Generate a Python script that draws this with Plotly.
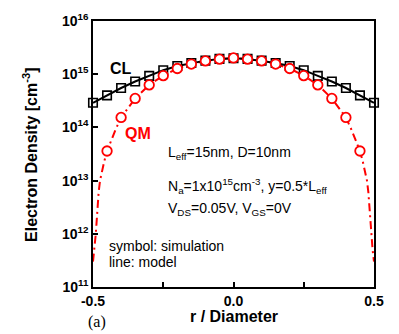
import plotly.graph_objects as go

# Normalised radial position r / Diameter
r_sim = [-0.5, -0.45, -0.4, -0.35, -0.3, -0.25, -0.2, -0.15, -0.1, -0.05, 0.0,
         0.05, 0.1, 0.15, 0.2, 0.25, 0.3, 0.35, 0.4, 0.45, 0.5]

# Classical (CL) electron density, simulation and model [cm^-3]
cl_sim = [2.9e14, 4.0e14, 5.5e14, 7.3e14, 9.3e14, 1.19e15, 1.43e15, 1.62e15, 1.8e15, 1.94e15, 2.0e15,
          1.94e15, 1.8e15, 1.62e15, 1.43e15, 1.19e15, 9.3e14, 7.3e14, 5.5e14, 4.0e14, 2.9e14]

# Quantum-mechanical (QM) simulation points
r_qm = [-0.45, -0.4, -0.35, -0.3, -0.25, -0.2, -0.15, -0.1, -0.05, 0.0,
        0.05, 0.1, 0.15, 0.2, 0.25, 0.3, 0.35, 0.4, 0.45]
qm_sim = [3.6e13, 1.54e14, 3.5e14, 6.3e14, 9.4e14, 1.28e15, 1.55e15, 1.78e15, 1.92e15, 2.02e15,
          1.92e15, 1.78e15, 1.55e15, 1.28e15, 9.4e14, 6.3e14, 3.5e14, 1.54e14, 3.6e13]

# QM model curve
r_qm_model = [-0.5, -0.495, -0.49, -0.48, -0.475, -0.46, -0.45, -0.42, -0.4, -0.35, -0.3, -0.25,
              -0.2, -0.15, -0.1, -0.05, 0.0, 0.05, 0.1, 0.15, 0.2, 0.25, 0.3, 0.35, 0.4,
              0.42, 0.45, 0.46, 0.475, 0.48, 0.49, 0.495, 0.5]
qm_model = [3e11, 5e11, 1e12, 6e12, 1e13, 2.3e13, 3.6e13, 9e13, 1.54e14, 3.5e14, 6.3e14, 9.4e14,
            1.28e15, 1.55e15, 1.78e15, 1.92e15, 2.02e15, 1.92e15, 1.78e15, 1.55e15, 1.28e15, 9.4e14,
            6.3e14, 3.5e14, 1.54e14, 9e13, 3.6e13, 2.3e13, 1e13, 6e12, 1e12, 5e11, 3e11]

y_tickvals = [1e11, 1e12, 1e13, 1e14, 1e15, 1e16]
y_ticktext = ["<b>10<sup>11</sup></b>", "<b>10<sup>12</sup></b>", "<b>10<sup>13</sup></b>",
              "<b>10<sup>14</sup></b>", "<b>10<sup>15</sup></b>", "<b>10<sup>16</sup></b>"]
x_tickvals = [-0.5, 0.0, 0.5]
x_ticktext = ["<b>-0.5</b>", "<b>0.0</b>", "<b>0.5</b>"]

FONT = "Arial, Liberation Sans, sans-serif"

fig = go.Figure()

fig.add_trace(go.Scatter(
    x=r_qm_model, y=qm_model, mode="lines",
    line=dict(color="#ff0000", width=2, dash="8px,4px,2px,4px"),
    showlegend=False, cliponaxis=True))

fig.add_trace(go.Scatter(
    x=r_sim, y=cl_sim, mode="lines+markers",
    line=dict(color="black", width=2),
    marker=dict(symbol="square-open", size=8.5, color="black", line=dict(width=1.6)),
    showlegend=False, cliponaxis=False))

fig.add_trace(go.Scatter(
    x=r_qm, y=qm_sim, mode="markers",
    marker=dict(symbol="circle", size=9.5, color="white", line=dict(width=1.8, color="#ff0000")),
    showlegend=False, cliponaxis=False))

fig.update_layout(
    width=399, height=334,
    margin=dict(l=93, r=25, t=11, b=47),
    paper_bgcolor="white", plot_bgcolor="white",
    font=dict(family=FONT, color="black", size=13),
    xaxis=dict(range=[-0.5, 0.5], tickvals=x_tickvals, ticktext=x_ticktext,
               ticks="inside", ticklen=5, tickwidth=1.5, tickcolor="black",
               minor=dict(tickvals=[-0.25, 0.25], ticks="inside", ticklen=5,
                          tickwidth=1.5, tickcolor="black", showgrid=False),
               showline=True, linecolor="black", linewidth=1.5, mirror=True,
               showgrid=False, zeroline=False, tickfont=dict(size=14)),
    yaxis=dict(type="log", range=[11, 16], tickvals=y_tickvals, ticktext=y_ticktext,
               ticks="inside", ticklen=5, tickwidth=1.5, tickcolor="black",
               showline=True, linecolor="black", linewidth=1.5, mirror=True,
               showgrid=False, zeroline=False, tickfont=dict(size=14)),
)

# Annotation positions given in page pixels (x from left, y from top)
annotations = [
    dict(text="<b>CL</b>", x=121, y=60, font=dict(size=16, color="black")),
    dict(text="<b>QM</b>", x=138, y=128, font=dict(size=16, color="#ff0000")),
    dict(text="L<sub>eff</sub>=15nm, D=10nm", x=166, y=148, xanchor="left", font=dict(size=14)),
    dict(text="N<sub>a</sub>=1x10<sup>15</sup>cm<sup>-3</sup>, y=0.5*L<sub>eff</sub>",
         x=166, y=182, xanchor="left", font=dict(size=14)),
    dict(text="V<sub>DS</sub>=0.05V, V<sub>GS</sub>=0V", x=166, y=206, xanchor="left", font=dict(size=14)),
    dict(text="symbol: simulation", x=107, y=244, xanchor="left", font=dict(size=14)),
    dict(text="line: model", x=107, y=261, xanchor="left", font=dict(size=14)),
    dict(text="<b>r / Diameter</b>", x=234, y=318, font=dict(size=16)),
    dict(text="<b>Electron Density [cm<sup>-3</sup>]</b>", x=30, y=150, textangle=-90, font=dict(size=16)),
    dict(text="(a)", x=97, y=323, font=dict(size=16, family="Liberation Serif, Times New Roman, serif")),
]

# map page pixels into plot-area paper space
pw, ph = 399 - 93 - 25, 334 - 11 - 47
for a in annotations:
    px = a.pop("x")
    py = a.pop("y")
    fig.add_annotation(x=(px - 93) / pw, y=1 - (py - 11) / ph, xref="paper", yref="paper",
                       showarrow=False, xanchor=a.pop("xanchor", "center"), yanchor="middle", **a)

fig.write_html("out.html")
